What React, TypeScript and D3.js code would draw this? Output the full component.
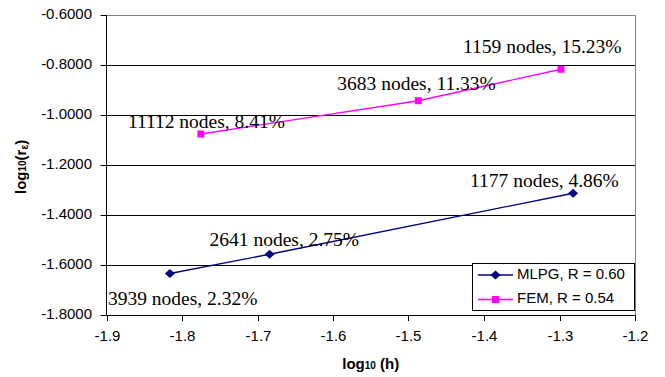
import React, { useEffect, useRef } from 'react';
import * as d3 from 'd3';

// data
const mlpgH = [-1.816, -1.684, -1.282];
const mlpgErr = [-1.634, -1.557, -1.313];
const mlpgLabels = ['3939 nodes, 2.32%', '2641 nodes, 2.75%', '1177 nodes, 4.86%'];

const femH = [-1.775, -1.487, -1.298];
const femErr = [-1.076, -0.943, -0.817];
const femLabels = ['11112 nodes, 8.41%', '3683 nodes, 11.33%', '1159 nodes, 15.23%'];

const xTicks = [-1.9, -1.8, -1.7, -1.6, -1.5, -1.4, -1.3, -1.2];
const yTicks = [-0.6, -0.8, -1.0, -1.2, -1.4, -1.6, -1.8];

const seriesNames = ['MLPG, R = 0.60', 'FEM, R = 0.54'];

const W = 665;
const H = 377;

const App = () => {
  const svgRef = useRef<SVGSVGElement>(null);

  useEffect(() => {
    const svg = d3.select(svgRef.current);
    svg.selectAll('*').remove();

    const left = 106.5, right = 635, top = 15, bottom = 315;
    const x = d3.scaleLinear().domain([-1.9, -1.2]).range([left, right]);
    const y = d3.scaleLinear().domain([-0.6, -1.8]).range([top, bottom]);

    const locale = d3.formatLocale({ decimal: '.', thousands: ',', grouping: [3], currency: ['', ''], minus: '-' });
    const fy = locale.format('.4f');
    const fx = locale.format('.1f');

    const sans = 'Liberation Sans, Arial, sans-serif';
    const serif = 'Liberation Serif, Times New Roman, serif';

    svg.append('rect').attr('width', W).attr('height', H).attr('fill', '#fff');

    // gridlines
    yTicks.slice(1, -1).forEach(t => {
      svg.append('line')
        .attr('x1', left).attr('x2', right)
        .attr('y1', Math.round(y(t)) + 0.5).attr('y2', Math.round(y(t)) + 0.5)
        .attr('stroke', '#000').attr('stroke-width', 1);
    });

    // plot border (top/right gray)
    svg.append('path')
      .attr('d', `M${left},${top + 0.5}H${right + 0.5}V${bottom}`)
      .attr('fill', 'none').attr('stroke', '#808080').attr('stroke-width', 1);

    // axes
    svg.append('line')
      .attr('x1', left).attr('x2', left).attr('y1', top).attr('y2', bottom + 0.5)
      .attr('stroke', '#000');
    svg.append('line')
      .attr('x1', left).attr('x2', right + 0.5).attr('y1', bottom + 0.5).attr('y2', bottom + 0.5)
      .attr('stroke', '#000');

    yTicks.forEach(t => {
      const yy = Math.round(y(t)) + 0.5;
      svg.append('line').attr('x1', left - 6).attr('x2', left).attr('y1', yy).attr('y2', yy).attr('stroke', '#000');
      svg.append('text')
        .attr('x', 92).attr('y', yy)
        .attr('text-anchor', 'end').attr('dominant-baseline', 'middle')
        .style('font-family', sans).style('font-size', '15px')
        .text(fy(t));
    });

    xTicks.forEach(t => {
      const xx = Math.round(x(t)) + 0.5;
      svg.append('line').attr('x1', xx).attr('x2', xx).attr('y1', bottom).attr('y2', bottom + 6).attr('stroke', '#000');
      svg.append('text')
        .attr('x', xx).attr('y', 341)
        .attr('text-anchor', 'middle')
        .style('font-family', sans).style('font-size', '15px')
        .text(fx(t));
    });

    // axis titles
    const xt = svg.append('text')
      .attr('x', (left + right) / 2).attr('y', 369)
      .attr('text-anchor', 'middle')
      .style('font-family', sans).style('font-size', '15px').style('font-weight', 'bold');
    xt.append('tspan').text('log');
    xt.append('tspan').style('font-size', '10px').text('10');
    xt.append('tspan').text(' (h)');

    const yt = svg.append('text')
      .attr('transform', `translate(26,194) rotate(-90)`)
      .attr('text-anchor', 'start')
      .style('font-family', sans).style('font-size', '15px').style('font-weight', 'bold');
    yt.append('tspan').text('log');
    yt.append('tspan').style('font-size', '10px').text('10');
    yt.append('tspan').text('(r');
    yt.append('tspan').style('font-size', '10px').attr('dy', 2).text('ε');
    yt.append('tspan').attr('dy', -2).text(')');

    const diamond = (cx: number, cy: number) =>
      `M${cx},${cy - 4.5}L${cx + 5},${cy}L${cx},${cy + 4.5}L${cx - 5},${cy}Z`;

    const line = d3.line<[number, number]>().x(d => x(d[0])).y(d => y(d[1]));

    // MLPG
    const mlpg = mlpgH.map((h, i) => [h, mlpgErr[i]] as [number, number]);
    svg.append('path').attr('d', line(mlpg)).attr('fill', 'none').attr('stroke', '#000080').attr('stroke-width', 1.3);
    mlpg.forEach(d => {
      svg.append('path').attr('d', diamond(x(d[0]), y(d[1]))).attr('fill', '#000080');
    });

    // FEM
    const fem = femH.map((h, i) => [h, femErr[i]] as [number, number]);
    svg.append('path').attr('d', line(fem)).attr('fill', 'none').attr('stroke', '#ff00ff').attr('stroke-width', 1.3);
    fem.forEach(d => {
      svg.append('rect').attr('x', x(d[0]) - 3.5).attr('y', y(d[1]) - 3.5).attr('width', 7).attr('height', 7).attr('fill', '#ff00ff');
    });

    // point labels
    const mlpgOff = [[-62, 31], [-60, -8], [-103, -6.5]];
    const femOff = [[-73, -6], [-81, -10.5], [-98, -16]];
    const addLabels = (pts: [number, number][], labels: string[], off: number[][]) => {
      pts.forEach((d, i) => {
        svg.append('text')
          .attr('x', x(d[0]) + off[i][0]).attr('y', y(d[1]) + off[i][1])
          .style('font-family', serif).style('font-size', '19.5px')
          .text(labels[i]);
      });
    };
    addLabels(mlpg, mlpgLabels, mlpgOff);
    addLabels(fem, femLabels, femOff);

    // legend
    const lg = svg.append('g');
    lg.append('rect').attr('x', 472.5).attr('y', 263.5).attr('width', 162).attr('height', 47)
      .attr('fill', '#fff').attr('stroke', '#000');
    const rows = [275, 299.5];
    [0, 1].forEach(i => {
      const cy = rows[i];
      const col = i === 0 ? '#000080' : '#ff00ff';
      lg.append('line').attr('x1', 478).attr('x2', 513).attr('y1', cy).attr('y2', cy).attr('stroke', col).attr('stroke-width', 1.3);
      if (i === 0) lg.append('path').attr('d', diamond(495.5, cy)).attr('fill', col);
      else lg.append('rect').attr('x', 492).attr('y', cy - 3.5).attr('width', 7).attr('height', 7).attr('fill', col);
      lg.append('text').attr('x', 517).attr('y', cy).attr('dominant-baseline', 'middle')
        .style('font-family', sans).style('font-size', '15px')
        .text(seriesNames[i]);
    });
  }, []);

  return (
    <div style={{ position: 'absolute', left: 0, top: 0 }}>
      <svg ref={svgRef} width={W} height={H} style={{ display: 'block' }} />
    </div>
  );
};

export default App;
